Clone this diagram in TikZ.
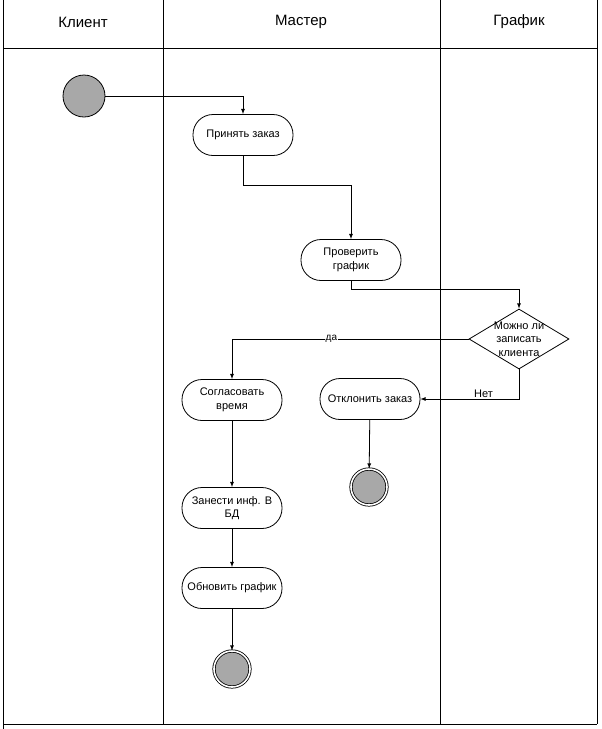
\documentclass[tikz,border=0pt]{standalone}
\usepackage{fontspec}
\setmainfont{Liberation Sans}
\usepackage{xcolor}
\usetikzlibrary{shapes.geometric}

\definecolor{dotgray}{HTML}{A8A8A8}

\begin{document}
\begin{tikzpicture}[x=1pt,y=-1pt,line width=0.8pt,>=latex,
	action/.style={draw, rounded corners=20pt, minimum width=100pt, minimum height=41pt, align=center, font=\fontsize{11}{13.5}\selectfont},
	decision/.style={diamond, draw, minimum width=100pt, minimum height=60pt, inner sep=-9pt, align=center, font=\fontsize{11}{13.5}\selectfont},
	initial/.style={circle, draw, fill=dotgray, minimum size=42pt, inner sep=0pt},
	final/.style={circle, draw, double, double distance=1.6pt, fill=dotgray, minimum size=36pt, inner sep=0pt},
	lane/.style={font=\fontsize{15}{18}\selectfont}]
				\useasboundingbox (0,0) rectangle (602,729);
				% lanes
				\draw (3,0) -- (3,729);
				\draw (163,0) -- (163,724);
				\draw (440,0) -- (440,724);
				\draw (597,0) -- (597,724);
				\draw (3,48) -- (597,48);
				\draw (3,724) -- (597,724);
				\node[lane] (client) at (83,22) {Клиент};
				\node[lane] (master) at (301,22) {Мастер};
				\node[lane] (sched) at (519,22) {График};
				% activities
				\node[initial] (start) at (84,96) {};
				\node[action] (accept) at (243,135) {Принять заказ};
				\node[action] (check) at (351,260) {Проверить\\график};
				\node[decision] (decide) at (519,339) {Можно ли\\записать\\клиента};
				\node[action] (agree) at (232,400) {Согласовать\\время};
				\node[action] (reject) at (370,399) {Отклонить заказ};
				\node[final] (end2) at (369,487) {};
				\node[action] (store) at (232,508) {Занести инф. В\\БД};
				\node[action] (update) at (232,588) {Обновить график};
				\node[final] (end1) at (232,669) {};
				\coordinate (bend1) at (243,185);
				\coordinate (bend2) at (351,289);
				% flows
				\draw[->] (start) -| (accept);
				\draw[->] (accept) -- (bend1) -| (check);
				\draw[->] (check) -- (bend2) -| (decide);
				\draw[->] (decide) -| (agree) node[pos=0.29,fill=white,inner sep=1pt,font=\fontsize{10}{12}\selectfont] {да};
				\draw[->] (decide) |- (reject) node[pos=0.68,above,inner sep=1pt,font=\fontsize{11}{12}\selectfont] {Нет};
				\draw[->] (reject) -- (end2);
				\draw[->] (agree) -- (store);
				\draw[->] (store) -- (update);
				\draw[->] (update) -- (end1);
			\end{tikzpicture}
\end{document}
